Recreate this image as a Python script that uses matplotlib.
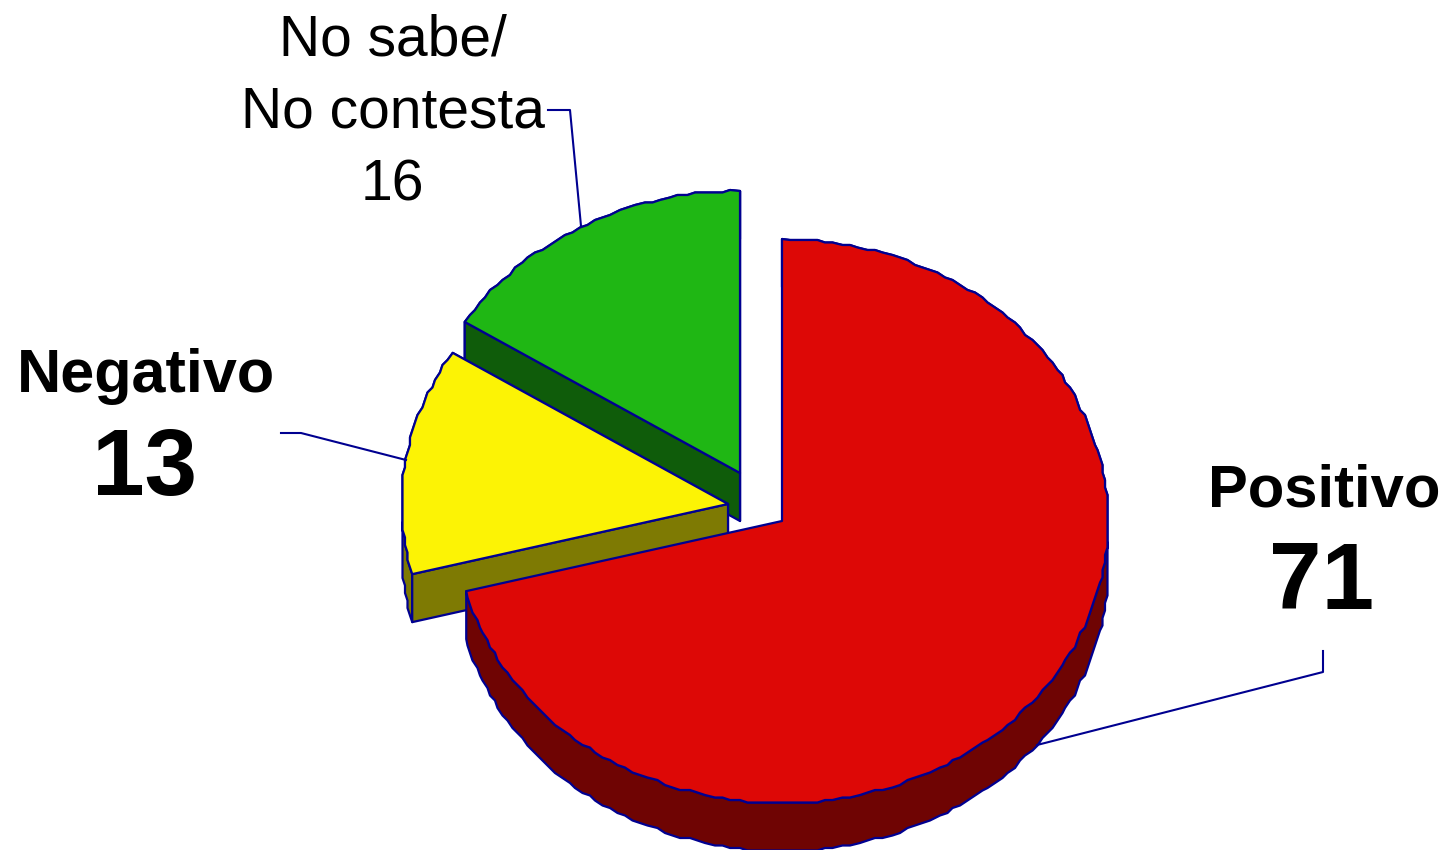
import numpy as np
import matplotlib
matplotlib.use("Agg")
import matplotlib.pyplot as plt
from matplotlib.patches import Polygon

plt.rcParams["font.family"] = ["Liberation Sans", "DejaVu Sans"]

categories = ["Positivo", "Negativo", "No sabe/", "No contesta"]
values = [71, 13, 16]

top_colors = ["#DD0806", "#FCF305", "#1FB714"]
side_colors = ["#6F0403", "#7E7A03", "#0F5C0A"]
edge_color = "#000090"

# exploded centres of each slice, in pixels
centers = [(782, 521), (728, 504), (740, 473)]
rx, ry = 326, 282
depth = 48


def arc(center, a0, a1):
    # angles clockwise from 12 o'clock, flat ellipse because of the tilt
    n = max(int((a1 - a0) / 1.5), 8)
    t = np.radians(90 - np.linspace(a0, a1, n))
    pts = np.column_stack([center[0] + rx * np.cos(t), center[1] - ry * np.sin(t)])
    # the source is a low res metafile, its curves are stepped
    pts[1:-1] = np.round(pts[1:-1] / 2.5) * 2.5
    return pts


fig = plt.figure(figsize=(14.45, 8.5), dpi=100)
ax = fig.add_axes([0, 0, 1, 1])
ax.set_xlim(0, 1445)
ax.set_ylim(850, 0)
ax.axis("off")

shares = np.array(values) / sum(values) * 360
starts = np.concatenate([[0], np.cumsum(shares)[:-1]])
down = np.array([0, depth])

# back to front: no sabe, negativo, positivo
for i in [2, 1, 0]:
    a0, a1 = starts[i], starts[i] + shares[i]
    c = np.array(centers[i], dtype=float)
    rim = arc(c, a0, a1)
    style = dict(lw=1.6, ec=edge_color, joinstyle="round")

    wall = np.vstack([rim, (rim + down)[::-1]])
    ax.add_patch(Polygon(wall, fc=side_colors[i], **style))
    # the big slice hides its own cut faces
    if i != 0:
        for p in [rim[-1], rim[0]]:
            face = np.array([c, p, p + down, c + down])
            ax.add_patch(Polygon(face, fc=side_colors[i], **style))
    ax.add_patch(Polygon(np.vstack([c, rim]), fc=top_colors[i], **style))

# leader lines
ax.plot([1037, 1323, 1323], [745, 672, 651], color=edge_color, lw=1.5)
ax.plot([281, 301, 406], [433, 433, 460], color=edge_color, lw=1.5)
ax.plot([548, 570, 581], [110, 110, 226], color=edge_color, lw=1.5)

# labels
ax.text(1324, 506, categories[0], fontsize=43, fontweight="bold", ha="center", va="baseline")
ax.text(1322, 609, str(values[0]), fontsize=68, fontweight="bold", ha="center", va="baseline")
ax.text(146, 392, categories[1], fontsize=44, fontweight="bold", ha="center", va="baseline")
ax.text(144, 495, str(values[1]), fontsize=68, fontweight="bold", ha="center", va="baseline")
ax.text(393, 55, categories[2], fontsize=41, ha="center", va="baseline")
ax.text(393, 127, categories[3], fontsize=41, ha="center", va="baseline")
ax.text(392, 200, str(values[2]), fontsize=41, ha="center", va="baseline")

fig.savefig("out.png", dpi=100)
